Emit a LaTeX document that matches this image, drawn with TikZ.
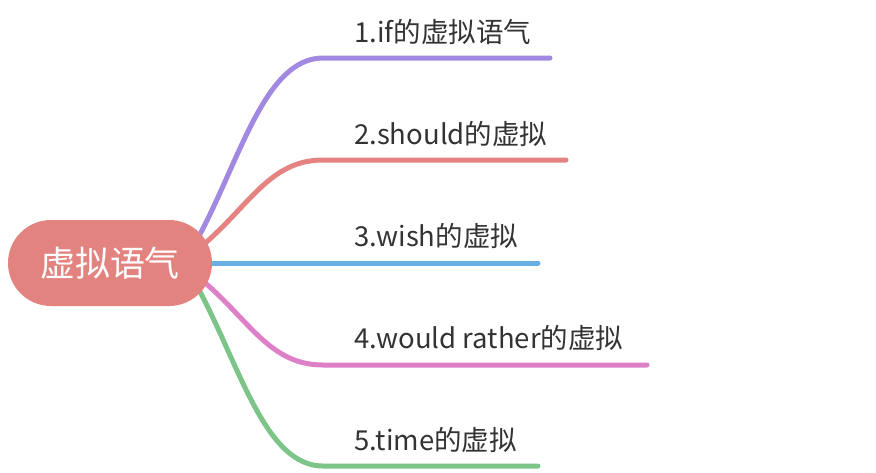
\documentclass[tikz,border=0pt]{standalone}
\usepackage{fontspec}
\setmainfont{Noto Sans CJK SC}
\usetikzlibrary{backgrounds}
\definecolor{rootfill}{RGB}{227,131,128}
\definecolor{cpurple}{RGB}{161,136,224}
\definecolor{cred}{RGB}{228,131,130}
\definecolor{cblue}{RGB}{104,176,228}
\definecolor{cpink}{RGB}{222,128,200}
\definecolor{cgreen}{RGB}{124,196,136}
\definecolor{txt}{RGB}{51,51,51}
\tikzset{
  rootbox/.style={fill=rootfill, rounded corners=43pt, minimum width=204pt, minimum height=86pt, inner sep=0pt, text=white, font=\fontsize{35}{38}\selectfont},
  leaf/.style={anchor=west, inner sep=0pt, text=txt, font=\fontsize{27.5}{30}\selectfont},
  branch/.style={line width=5pt, line cap=round}
}
\begin{document}
\begin{tikzpicture}[x=1pt,y=-1pt]
\useasboundingbox (0,0) rectangle (876,472);
\node[rootbox] (root) at (110,263) {虚拟语气};
\node[leaf] (l1) at (354,32) {1.if的虚拟语气};
\node[leaf] (l2) at (354,134) {2.should的虚拟};
\node[leaf] (l3) at (354,236) {3.wish的虚拟};
\node[leaf] (l4) at (354,338) {4.would rather的虚拟};
\node[leaf] (l5) at (354,440) {5.time的虚拟};
\coordinate (s1) at (198,238);
\coordinate (s2) at (203,245);
\coordinate (s3) at (205,263);
\coordinate (s4) at (203,281);
\coordinate (s5) at (198,288);
\coordinate (k1) at (323,58);
\coordinate (k2) at (323,160);
\coordinate (k4) at (323,365);
\coordinate (k5) at (323,466);
\coordinate (e1) at (550,58);
\coordinate (e2) at (566,160);
\coordinate (e3) at (538,263);
\coordinate (e4) at (647,365);
\coordinate (e5) at (538,466);
\begin{pgfonlayer}{background}
\draw[branch, cpurple] (s1) .. controls (240,160) and (265,58) .. (k1) -- (e1);
\draw[branch, cred] (s2) .. controls (250,205) and (270,160) .. (k2) -- (e2);
\draw[branch, cblue] (s3) -- (e3);
\draw[branch, cpink] (s4) .. controls (250,321) and (270,365) .. (k4) -- (e4);
\draw[branch, cgreen] (s5) .. controls (240,366) and (265,466) .. (k5) -- (e5);
\end{pgfonlayer}
\end{tikzpicture}
\end{document}
